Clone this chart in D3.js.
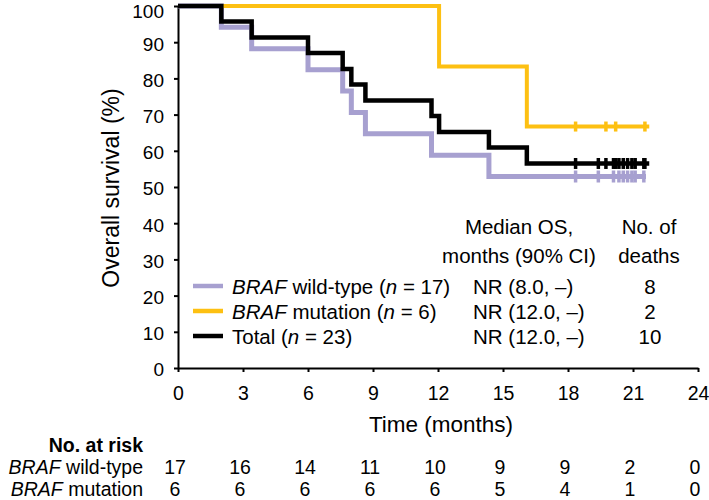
<!DOCTYPE html>
<html>
<head>
<meta charset="utf-8">
<script src="https://cdn.jsdelivr.net/npm/d3@7"></script>
<style>
  body { margin: 0; background: #fff; }
  svg { display: block; font-family: "Liberation Sans", Arial, sans-serif; }
</style>
</head>
<body>
<div id="chart"></div>
<script>
// ---- data ----
const timeTicks = [0, 3, 6, 9, 12, 15, 18, 21, 24];
const survTicks = [0, 10, 20, 30, 40, 50, 60, 70, 80, 90, 100];

// BRAF wild-type (n = 17)
const wtTimes = [0, 2.0, 3.4, 6.0, 7.6, 8.0, 8.65, 11.7, 14.35];
const wtSurv = [100, 94.1, 88.2, 82.4, 76.5, 70.6, 64.7, 58.8, 52.9];
const wtCensor = [18.35, 19.4, 20.1, 20.35, 20.55, 20.75, 20.95, 21.1, 21.5];
const wtEnd = 21.6;

// BRAF mutation (n = 6)
const mutTimes = [0, 12.05, 16.1];
const mutSurv = [100, 83.3, 66.7];
const mutCensor = [18.35, 19.75, 20.2, 21.55];
const mutEnd = 21.75;

// Total (n = 23)
const totTimes = [0, 2.0, 3.4, 6.0, 7.6, 8.0, 8.65, 11.7, 12.05, 14.35, 16.1];
const totSurv = [100, 95.7, 91.3, 87.0, 82.6, 78.3, 73.9, 69.6, 65.2, 60.9, 56.5];
const totCensor = [18.35, 19.4, 19.75, 20.1, 20.2, 20.35, 20.55, 20.75, 20.95, 21.1, 21.5, 21.55];
const totEnd = 21.75;

// legend / summary table
const legendNames = ["wild-type", "mutation", "Total"];
const legendN = [17, 6, 23];
const medianOS = ["NR (8.0, \u2013)", "NR (12.0, \u2013)", "NR (12.0, \u2013)"];
const deaths = [8, 2, 10];

// number at risk
const riskLabels = ["wild-type", "mutation"];
const riskWt = [17, 16, 14, 11, 10, 9, 9, 2, 0];
const riskMut = [6, 6, 6, 6, 6, 5, 4, 1, 0];

const colWt = "#a7a0d0";
const colMut = "#fdc012";
const colTot = "#000000";

const width = 709, height = 500;

const svg = d3.select("#chart").append("svg")
  .attr("width", width)
  .attr("height", height);

const x = d3.scaleLinear().domain([0, 24]).range([178, 698]);
const y = d3.scaleLinear().domain([0, 100]).range([368, 6]);

// axes
const yAxis = svg.append("g")
  .attr("transform", `translate(${x(0)},0)`)
  .call(d3.axisLeft(y).tickValues(survTicks).tickSize(4).tickSizeOuter(0).tickPadding(10));
yAxis.select(".domain").attr("stroke-width", 2);
yAxis.selectAll(".tick line").attr("stroke-width", 2);
yAxis.selectAll("text").attr("font-size", "19px").attr("fill", "#000")
  .attr("dy", d => d === 100 ? "0.6em" : "0.42em")
  .attr("font-family", "Liberation Sans, Arial, sans-serif");

const xAxis = svg.append("g")
  .attr("transform", `translate(0,${y(0)})`)
  .call(d3.axisBottom(x).tickValues(timeTicks).tickSize(4).tickSizeOuter(0).tickPadding(14));
xAxis.select(".domain").attr("stroke-width", 2);
xAxis.selectAll(".tick line").attr("stroke-width", 2);
xAxis.selectAll("text").attr("font-size", "19.5px").attr("fill", "#000")
  .attr("font-family", "Liberation Sans, Arial, sans-serif");

svg.append("text")
  .attr("transform", `translate(119,${(y(0) + y(100)) / 2 + 1}) rotate(-90)`)
  .attr("text-anchor", "middle")
  .attr("font-size", "23px")
  .text("Overall survival (%)");

svg.append("text")
  .attr("x", 441).attr("y", 432)
  .attr("text-anchor", "middle")
  .attr("font-size", "22.5px")
  .text("Time (months)");

// survival curves
const step = d3.line()
  .x(d => x(d[0]))
  .y(d => y(d[1]))
  .curve(d3.curveStepAfter);

function drawCurve(times, surv, endT, censor, color, sw, tickHalf) {
  const pts = times.map((t, i) => [t, surv[i]]);
  pts.push([endT, surv[surv.length - 1]]);
  svg.append("path")
    .attr("d", step(pts))
    .attr("fill", "none")
    .attr("stroke", color)
    .attr("stroke-width", sw);
  const last = surv[surv.length - 1];
  svg.append("g").selectAll("line")
    .data(censor)
    .enter().append("line")
    .attr("x1", d => x(d)).attr("x2", d => x(d))
    .attr("y1", y(last) - tickHalf).attr("y2", y(last) + tickHalf)
    .attr("stroke", color)
    .attr("stroke-width", 3.5);
}

drawCurve(wtTimes, wtSurv, wtEnd, wtCensor, colWt, 5, 6);
drawCurve(mutTimes, mutSurv, mutEnd, mutCensor, colMut, 4, 5);
drawCurve(totTimes, totSurv, totEnd, totCensor, colTot, 4.5, 5.5);

// legend + summary table
const legendColors = [colWt, colMut, colTot];
const rowBase = [294, 319, 344];

svg.append("text").attr("x", 519).attr("y", 234).attr("text-anchor", "middle")
  .attr("font-size", "20.5px").text("Median OS,");
svg.append("text").attr("x", 519).attr("y", 263).attr("text-anchor", "middle")
  .attr("font-size", "20.5px").text("months (90% CI)");
svg.append("text").attr("x", 649).attr("y", 234).attr("text-anchor", "middle")
  .attr("font-size", "20.5px").text("No. of");
svg.append("text").attr("x", 649).attr("y", 263).attr("text-anchor", "middle")
  .attr("font-size", "20.5px").text("deaths");

legendNames.forEach((name, i) => {
  svg.append("line")
    .attr("x1", 193).attr("x2", 223)
    .attr("y1", rowBase[i] - 8).attr("y2", rowBase[i] - 8)
    .attr("stroke", legendColors[i])
    .attr("stroke-width", 4.5);

  const t = svg.append("text")
    .attr("x", 232).attr("y", rowBase[i])
    .attr("font-size", "20.5px");
  if (name !== "Total") {
    t.append("tspan").attr("font-style", "italic").text("BRAF");
    t.append("tspan").text(" " + name + " (");
  } else {
    t.append("tspan").text("Total (");
  }
  t.append("tspan").attr("font-style", "italic").text("n");
  t.append("tspan").text(" = " + legendN[i] + ")");

  svg.append("text")
    .attr("x", 473).attr("y", rowBase[i])
    .attr("font-size", "20.5px")
    .text(medianOS[i]);

  svg.append("text")
    .attr("x", 650).attr("y", rowBase[i])
    .attr("text-anchor", "middle")
    .attr("font-size", "20.5px")
    .text(deaths[i]);
});

// number at risk table
svg.append("text")
  .attr("x", 143).attr("y", 452)
  .attr("text-anchor", "end")
  .attr("font-size", "19.5px")
  .attr("font-weight", "bold")
  .text("No. at risk");

const riskRows = [riskWt, riskMut];
const riskBase = [474, 496];
riskRows.forEach((row, r) => {
  const lab = svg.append("text")
    .attr("x", 143).attr("y", riskBase[r])
    .attr("text-anchor", "end")
    .attr("font-size", "19.5px");
  lab.append("tspan").attr("font-style", "italic").text("BRAF");
  lab.append("tspan").text(" " + riskLabels[r]);

  svg.append("g").selectAll("text")
    .data(row)
    .enter().append("text")
    .attr("x", (d, i) => x(timeTicks[i]) - 3)
    .attr("y", riskBase[r])
    .attr("text-anchor", "middle")
    .attr("font-size", "19.5px")
    .text(d => d);
});
</script>
</body>
</html>
